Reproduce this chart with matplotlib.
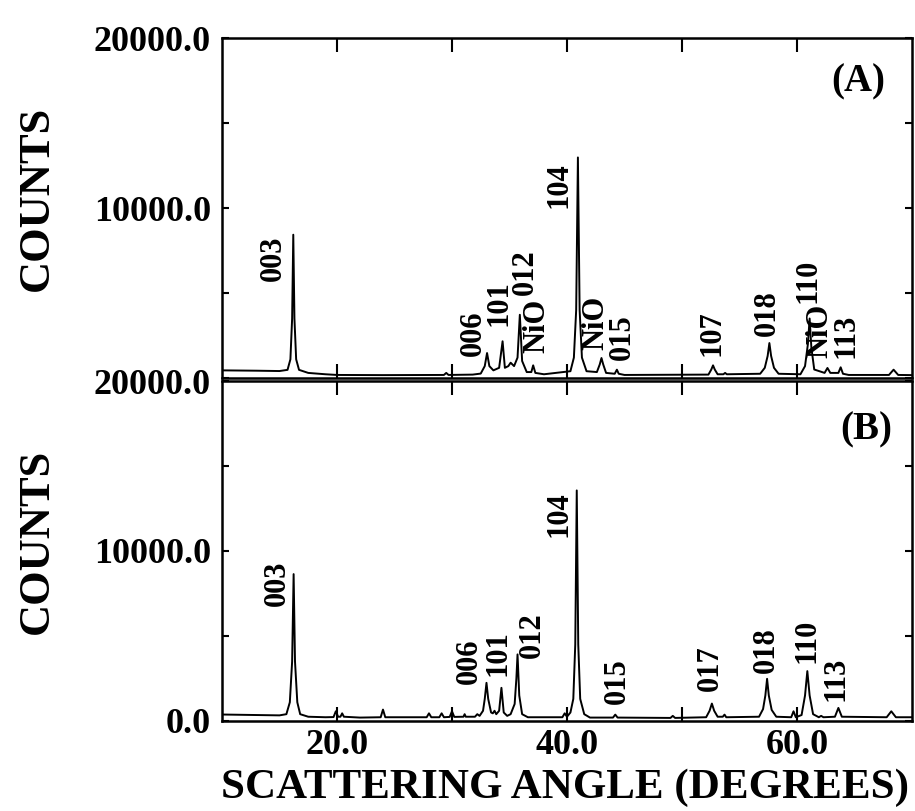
import matplotlib
matplotlib.use("Agg")
import matplotlib.pyplot as plt
from matplotlib.ticker import FixedLocator, FuncFormatter

plt.rcParams['font.family'] = ['Liberation Serif', 'DejaVu Serif']
plt.rcParams['font.weight'] = 'bold'

# XRD trace, sample A (2-theta in degrees, counts)
two_theta_a = [10.0, 13.0, 15.0, 15.7, 15.95, 16.1, 16.2, 16.3, 16.45, 16.7,
               17.5, 19.0, 20.0, 24.0, 29.3, 29.5, 29.7, 31.8, 32.5, 32.85,
               33.05, 33.25, 33.6, 34.1, 34.4, 34.6, 34.9, 35.1, 35.4, 35.7,
               35.9, 36.1, 36.5, 36.9, 37.06, 37.25, 38.0, 40.3, 40.6, 40.8,
               40.95, 41.1, 41.3, 41.7, 42.6, 42.85, 43.0, 43.15, 43.4, 44.15,
               44.34, 44.5, 45.0, 52.3, 52.55, 52.7, 52.85, 53.1, 53.6, 53.75,
               53.9, 56.8, 57.2, 57.45, 57.6, 57.75, 58.0, 58.4, 60.3, 60.7,
               60.95, 61.1, 61.25, 61.5, 62.4, 62.65, 62.9, 63.6, 63.8, 64.0,
               64.5, 68.0, 68.4, 68.8, 70.0]
counts_a = [450, 430, 410, 480, 1100, 3500, 8430, 3500, 1100, 480,
            300, 220, 180, 170, 180, 300, 180, 200, 260, 700,
            1470, 700, 450, 600, 2160, 600, 700, 900, 700, 1200,
            3720, 1000, 350, 350, 745, 300, 220, 400, 1200, 4000,
            12975, 4000, 1200, 400, 350, 800, 1176, 800, 300, 250,
            490, 250, 180, 200, 500, 745, 500, 220, 220, 300,
            220, 250, 600, 1300, 2058, 1300, 600, 250, 220, 700,
            2000, 3500, 1800, 500, 300, 590, 300, 300, 630, 250,
            180, 180, 490, 180, 170]

# XRD trace, sample B
two_theta_b = [10.0, 15.0, 15.6, 15.9, 16.1, 16.23, 16.35, 16.55, 16.8, 17.5,
               19.0, 19.7, 19.9, 20.1, 20.3, 20.45, 20.6, 22.0, 23.8, 24.0,
               24.2, 27.8, 28.0, 28.2, 28.9, 29.1, 29.3, 29.8, 30.0, 30.2,
               31.0, 31.1, 31.2, 32.0, 32.2, 32.4, 32.7, 32.85, 33.0, 33.15,
               33.4, 33.55, 33.7, 33.85, 34.1, 34.3, 34.5, 34.8, 35.1, 35.45,
               35.6, 35.7, 35.85, 36.1, 36.6, 39.6, 39.8, 40.0, 40.3, 40.55,
               40.72, 40.85, 40.98, 41.15, 41.5, 42.0, 44.0, 44.2, 44.4, 49.0,
               49.2, 49.4, 52.1, 52.4, 52.6, 52.8, 53.1, 53.55, 53.7, 53.85,
               56.7, 57.05, 57.25, 57.4, 57.55, 57.8, 58.2, 59.5, 59.7, 59.9,
               60.4, 60.7, 60.9, 61.1, 61.4, 61.9, 62.1, 62.3, 63.3, 63.6,
               63.9, 67.8, 68.2, 68.6, 70.0]
counts_b = [380, 330, 400, 1100, 3500, 8640, 3500, 1100, 400, 250,
            220, 230, 570, 250, 250, 450, 250, 200, 220, 670,
            220, 220, 450, 220, 220, 450, 220, 240, 570, 240,
            250, 400, 250, 250, 400, 300, 600, 1300, 2244, 1300,
            500, 450, 600, 400, 600, 1950, 500, 300, 400, 1000,
            2500, 3917, 1500, 400, 220, 220, 450, 250, 500, 1300,
            4500, 13563, 4500, 1300, 400, 200, 200, 374, 200, 180,
            300, 180, 220, 600, 1024, 600, 250, 250, 374, 220,
            250, 700, 1500, 2480, 1500, 650, 250, 220, 570, 220,
            350, 1500, 2933, 1500, 400, 220, 300, 220, 250, 768,
            250, 220, 570, 220, 220]

# reflection labels and where they sit (x centre, bottom of text)
labels_a = ['003', '006', '101', '012', 'NiO', '104', 'NiO', '015',
            '107', '018', '110', 'NiO', '113']
label_x_a = [14.5, 31.85, 34.1, 36.35, 37.35, 39.3, 42.5, 44.8,
             52.6, 57.45, 61.0, 61.95, 64.3]
label_y_a = [5700, 1270, 3040, 4900, 1470, 10000, 1670, 1080,
             1270, 2450, 4400, 1180, 1180]

labels_b = ['003', '006', '101', '012', '104', '015', '017', '018', '110', '113']
label_x_b = [14.85, 31.55, 34.0, 36.95, 39.3, 44.35, 52.5, 57.3, 60.85, 63.4]
label_y_b = [6770, 2150, 2640, 3720, 10800, 970, 1750, 2830, 3420, 1160]

fig = plt.figure(figsize=(9.15, 8.11), dpi=100)
ax_a = fig.add_axes([0.2426, 0.5339, 0.7541, 0.4192])
ax_b = fig.add_axes([0.2426, 0.1110, 0.7541, 0.4192])

x_major = [20, 30, 40, 50, 60]
y_major = [0, 5000, 10000, 15000, 20000]


def x_fmt(v, pos):
    return '%.1f' % v if v in (20, 40, 60) else ''


def setup(ax, trace_x, trace_y, labels, lx, ly, tag, tag_x, tag_y, y_shown):
    ax.plot(trace_x, trace_y, color='black', lw=1.4)
    ax.set_xlim(10, 70)
    ax.set_ylim(0, 20000)
    for s in ax.spines.values():
        s.set_linewidth(1.8)
    ax.xaxis.set_major_locator(FixedLocator(x_major))
    ax.xaxis.set_major_formatter(FuncFormatter(x_fmt))
    ax.yaxis.set_major_locator(FixedLocator(y_major))
    ax.yaxis.set_major_formatter(
        FuncFormatter(lambda v, pos: '%.1f' % v if v in y_shown else ''))
    ax.tick_params(axis='x', direction='in', top=True, length=10, width=1.5,
                   labelsize=26, pad=6)
    ax.tick_params(axis='y', direction='in', right=True, length=5, width=1.5,
                   labelsize=26, pad=8)
    for t, x, y in zip(labels, lx, ly):
        ax.text(x, y, t, rotation=90, ha='center', va='bottom',
                fontsize=22, fontweight='bold')
    ax.text(tag_x, tag_y, tag, transform=ax.transAxes, ha='center',
            va='center', fontsize=28, fontweight='bold')


setup(ax_a, two_theta_a, counts_a, labels_a, label_x_a, label_y_a,
      '(A)', 0.922, 0.871, (10000, 20000))
setup(ax_b, two_theta_b, counts_b, labels_b, label_x_b, label_y_b,
      '(B)', 0.933, 0.856, (0, 10000, 20000))
ax_a.tick_params(axis='x', labelbottom=False)

fig.text(0.040, 0.755, 'COUNTS', rotation=90, ha='center', va='center',
         fontsize=32, fontweight='bold')
fig.text(0.040, 0.333, 'COUNTS', rotation=90, ha='center', va='center',
         fontsize=32, fontweight='bold')
fig.text(0.617, 0.029, 'SCATTERING ANGLE (DEGREES)', ha='center',
         va='center', fontsize=31, fontweight='bold')

fig.savefig('out.png', dpi=100)
